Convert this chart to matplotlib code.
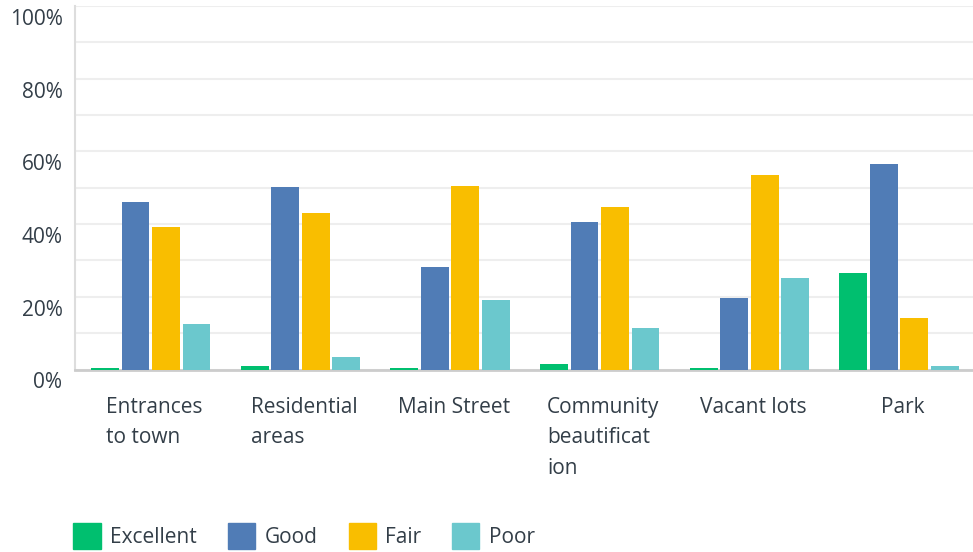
import matplotlib
matplotlib.use("Agg")
import matplotlib.pyplot as plt
import matplotlib.transforms as mtransforms
from matplotlib.patches import Patch
import numpy as np

plt.rcParams['font.family'] = ['Open Sans', 'DejaVu Sans']

# data (percent)
categories = ["Entrances\nto town", "Residential\nareas", "Main Street",
              "Community\nbeautificat\nion", "Vacant lots", "Park"]
series = ["Excellent", "Good", "Fair", "Poor"]
excellent = [0.0, 1.0, 0.0, 1.5, 0.0, 26.5]
good = [46.0, 50.1, 28.2, 40.5, 19.6, 56.4]
fair = [39.1, 43.0, 50.4, 44.6, 53.4, 14.1]
poor = [12.5, 3.4, 19.1, 11.4, 25.1, 1.0]
colors = ["#00BF6F", "#507CB6", "#F9BE00", "#6BC8CD"]
yticks = [0, 20, 40, 60, 80, 100]

text_col = "#333E48"

fig = plt.figure(figsize=(9.73, 5.52), dpi=100)
ax = fig.add_axes([75 / 973, 182.5 / 552, 898 / 973, 363.5 / 552])

x = np.arange(len(categories))
width = 30.5 / 149.7
for i, (name, vals) in enumerate(zip(series, [excellent, good, fair, poor])):
    # zero values still get a hairline like the original
    shown = np.maximum(np.array(vals), 0.3)
    ax.bar(x + (i - 1.5) * width + 0.006, shown, width * 0.91, color=colors[i],
           label=name, zorder=3)

ax.set_xlim(-0.5, len(categories) - 0.5)
ax.set_ylim(0, 100)
ax.set_yticks(yticks)
ax.set_yticklabels([f"{t}%" for t in yticks], fontsize=15, color=text_col)
ax.set_yticks(np.arange(0, 101, 10), minor=True)
ax.grid(axis='y', which='both', color='#EEEEEE', linewidth=1.5, zorder=0)
ax.tick_params(axis='y', which='both', length=0, pad=9)
ax.set_xticks([])

# the original sets the percent labels a bit below their gridlines
shift = mtransforms.ScaledTranslation(0, -11 / 100, fig.dpi_scale_trans)
for lbl in ax.get_yticklabels():
    lbl.set_transform(lbl.get_transform() + shift)

for s in ['top', 'right']:
    ax.spines[s].set_visible(False)
ax.spines['left'].set_color('#DDDDDD')
ax.spines['left'].set_linewidth(1.5)
ax.spines['bottom'].set_color('#CCCCCC')
ax.spines['bottom'].set_linewidth(2)

for xi, lab in zip(x, categories):
    ax.text(xi + 0.03, -7.6, lab, ha='center', va='top', multialignment='left',
            fontsize=15, color=text_col, linespacing=1.58,
            transform=ax.transData, clip_on=False)

handles = [Patch(facecolor=c, edgecolor=c) for c in colors]
fig.legend(handles, series, loc='lower left', bbox_to_anchor=(62 / 973, -0.016),
           ncol=4, frameon=False, fontsize=15, handlelength=1.3,
           handleheight=1.6, handletextpad=0.45, columnspacing=1.5,
           borderpad=0.05, labelcolor=text_col)

fig.savefig("out.png", dpi=100)
